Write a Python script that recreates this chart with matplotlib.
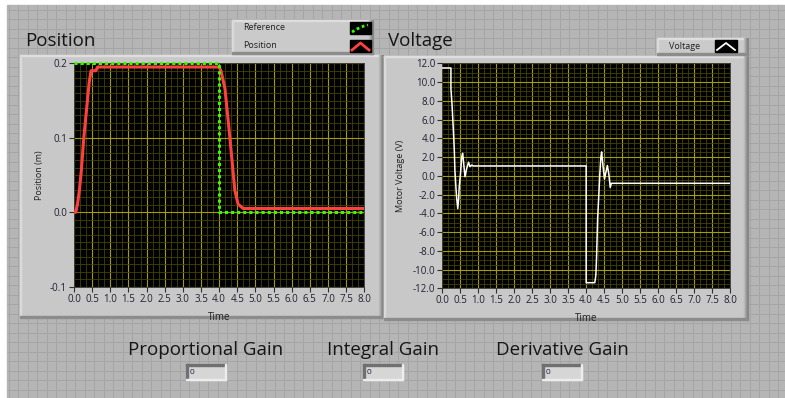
import matplotlib
matplotlib.use('Agg')
import matplotlib.pyplot as plt
import numpy as np
from matplotlib.patches import Rectangle
from matplotlib.ticker import MultipleLocator, FormatStrFormatter

ref_t = [0.0, 4.0, 4.0, 8.0]
ref_y = [0.2, 0.2, 0.0, 0.0]

pos_t = [0.0, 0.05, 0.1, 0.15, 0.2, 0.27, 0.35, 0.42, 0.47, 0.5, 0.6, 0.65,
         4.0, 4.05, 4.16, 4.3, 4.43, 4.52, 4.66, 8.0]
pos_y = [0.0, 0.0, 0.012, 0.03, 0.055, 0.1, 0.14, 0.175, 0.19, 0.19, 0.19, 0.195,
         0.195, 0.19, 0.166, 0.098, 0.03, 0.011, 0.005, 0.005]

volt_t = [0.0, 0.24, 0.24, 0.27, 0.31, 0.335, 0.35, 0.38, 0.40, 0.43, 0.455, 0.47,
          0.51, 0.54, 0.565, 0.58, 0.63, 0.68, 0.73, 0.77, 0.82, 0.86,
          4.0, 4.0, 4.24, 4.27, 4.29, 4.32, 4.35, 4.38, 4.41, 4.43, 4.47, 4.51,
          4.55, 4.59, 4.63, 4.67, 4.70, 8.0]
volt_v = [11.5, 11.5, 9.3, 7.6, 4.7, 2.6, 0.6, -1.3, -2.4, -3.5, -2.4, -1.2,
          0.4, 2.0, 2.4, 1.9, -0.1, 0.8, 1.45, 0.97, 1.15, 1.05,
          1.05, -11.4, -11.4, -10.6, -8.6, -4.5, -2.2, 0.2, 2.0, 2.55, 1.0, -0.35,
          0.4, 1.1, 0.2, -1.25, -0.8, -0.8]

gain_labels = ['Proportional Gain', 'Integral Gain', 'Derivative Gain']
gain_values = [0, 0, 0]

W, H = 785, 398
FONT = 'Open Sans'
plt.rcParams['font.family'] = [FONT, 'DejaVu Sans']


def fig_rect(x0, y0, x1, y1):
    return [x0 / W, 1 - y1 / H, (x1 - x0) / W, (y1 - y0) / H]


fig = plt.figure(figsize=(7.85, 3.98), dpi=100)
bg = fig.add_axes([0, 0, 1, 1], zorder=0)
bg.set_xlim(0, W)
bg.set_ylim(H, 0)
bg.axis('off')

# panel de fondo con su rejilla
bg.add_patch(Rectangle((0, 0), W, H, color='white', zorder=0))
bg.add_patch(Rectangle((7, 5), W - 7, H - 5, color='#b5b5b5', zorder=0.1))
bg.vlines(np.arange(8.7, W, 9.5), 5, H, color='#a5a5a5', lw=0.7, zorder=0.2)
bg.hlines(np.arange(9.8, H, 9.5), 7, W, color='#a5a5a5', lw=0.7, zorder=0.2)


def frame(x0, y0, x1, y1, face='#c8c8c8'):
    bg.add_patch(Rectangle((x0, y0), x1 - x0, y1 - y0, color=face))
    bg.add_patch(Rectangle((x0, y0), x1 - x0, 1, color='#dedede'))
    bg.add_patch(Rectangle((x0, y0), 1, y1 - y0, color='#dadada'))
    for i, c in enumerate(['#bdbdbd', '#acacac', '#9a9a9a', '#878787']):
        bg.add_patch(Rectangle((x1 - 4 + i, y0), 1, y1 - y0, color=c))
    bg.add_patch(Rectangle((x0, y1 - 2), x1 - x0, 2, color='#8c8c8c'))


frame(20, 55, 383, 318)
frame(384, 56, 748, 320)
frame(232, 20, 373, 54, face='#cacaca')
frame(657, 38, 748, 55, face='#cacaca')

# títulos
bg.text(25, 41, 'Position', fontsize=13.5, va='center', color='#151515')
bg.text(388, 41, 'Voltage', fontsize=13.5, va='center', color='#151515')

# leyendas
bg.text(243, 28, 'Reference', fontsize=6.5, va='center', color='#202020')
bg.text(243, 46, 'Position', fontsize=6.5, va='center', color='#202020')
bg.add_patch(Rectangle((350, 22), 21, 12, color='black'))
bg.add_patch(Rectangle((350, 40), 21, 12, color='black'))
bg.plot([352, 356, 360, 364, 368], [32, 29.5, 27.5, 26, 25], color='#33ff00',
        lw=2, ls=(0, (1, 1)))
bg.plot([352, 360.5, 369], [50, 43, 50], color='#ff4040', lw=2)
bg.text(669, 46.5, 'Voltage', fontsize=6.5, va='center', color='#202020')
bg.add_patch(Rectangle((715, 40), 22, 12, color='black'))
bg.plot([717, 726, 735], [50, 43, 50], color='white', lw=1.3)

# controles de ganancia
for cx, lab, val in zip([206, 383, 562], gain_labels, gain_values):
    bg.text(cx, 350, lab, fontsize=13.5, ha='center', va='center', color='#151515')
    bx = cx - 20
    bg.add_patch(Rectangle((bx, 364), 40, 16, color='#d6d6d6'))
    bg.add_patch(Rectangle((bx, 364), 40, 1.5, color='#707070'))
    bg.add_patch(Rectangle((bx, 364), 1.5, 16, color='#707070'))
    bg.add_patch(Rectangle((bx, 378.5), 40, 1.5, color='#ededed'))
    bg.add_patch(Rectangle((bx + 38.5, 364), 1.5, 16, color='#ededed'))
    bg.text(bx + 4, 372.5, str(val), fontsize=6, va='center', color='#202040')


def style_graph(ax, ymajor, yminor, fmt):
    ax.set_facecolor('black')
    ax.set_xlim(0, 8)
    ax.xaxis.set_major_locator(MultipleLocator(0.5))
    ax.xaxis.set_minor_locator(MultipleLocator(0.5 / 3))
    ax.yaxis.set_major_locator(MultipleLocator(ymajor))
    ax.yaxis.set_minor_locator(MultipleLocator(yminor))
    ax.xaxis.set_major_formatter(FormatStrFormatter('%.1f'))
    ax.yaxis.set_major_formatter(FormatStrFormatter(fmt))
    ax.grid(which='minor', color='#444200', lw=0.6)
    ax.grid(which='major', color='#a39d00', lw=0.8)
    ax.set_axisbelow(True)
    ax.tick_params(which='major', length=3.5, width=0.8, color='#303030',
                   labelsize=7, labelcolor='#202030', pad=1.5)
    ax.tick_params(which='minor', length=0)
    for s in ax.spines.values():
        s.set_color('#303030')
        s.set_linewidth(0.6)
    ax.set_xlabel('Time', fontsize=7, color='#202020')


ax1 = fig.add_axes(fig_rect(74, 63.3, 364.3, 286.7), zorder=2)
style_graph(ax1, 0.1, 0.01, '%.1f')
ax1.set_ylim(-0.1, 0.2)
ax1.plot(pos_t, pos_y, color='#ff4040', lw=2.2, zorder=3)
ax1.plot(ref_t, ref_y, color='#33ff00', lw=2.2, ls=(0, (1, 1)), zorder=4,
         clip_on=False)
ax1.set_ylabel('Position (m)', fontsize=6.5, color='#202020')
ax1.yaxis.set_label_coords(-0.103, 0.5)
ax1.xaxis.set_label_coords(0.5, -0.112)

ax2 = fig.add_axes(fig_rect(442.3, 63.3, 730, 288.3), zorder=2)
style_graph(ax2, 2.0, 0.5, '%.1f')
ax2.set_ylim(-12, 12)
ax2.plot(volt_t, volt_v, color='white', lw=1.1, zorder=3)
ax2.set_ylabel('Motor Voltage (V)', fontsize=6.5, color='#202020')
ax2.yaxis.set_label_coords(-0.13, 0.5)
ax2.xaxis.set_label_coords(0.5, -0.108)

fig.savefig('out.png', dpi=100)
